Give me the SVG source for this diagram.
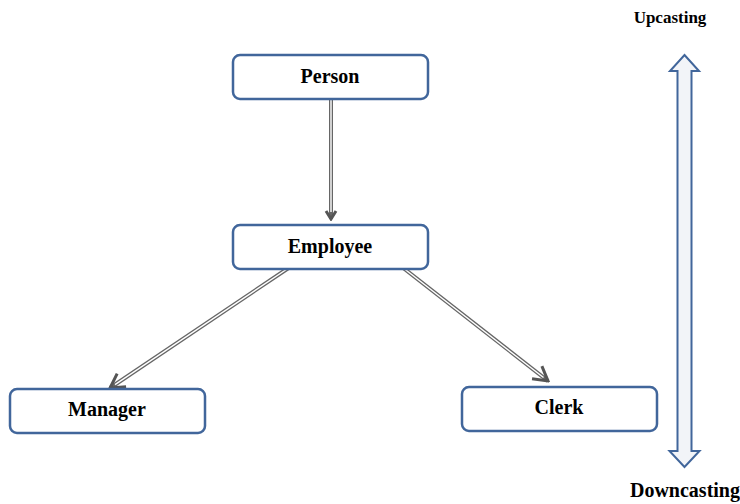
<svg xmlns="http://www.w3.org/2000/svg" width="740" height="504" viewBox="0 0 740 504">
<style>
.box{fill:#fff;stroke:#41669b;stroke-width:2.5}
.lbl{font-family:"Liberation Serif","Times New Roman",serif;font-weight:bold;font-size:20px;fill:#000;text-anchor:middle}
.side{font-family:"Liberation Serif","Times New Roman",serif;font-weight:bold;fill:#000;text-anchor:middle}
.outer{stroke:#666;stroke-width:4;fill:none}
.inner{stroke:#fff;stroke-width:1.4;fill:none}
.big{fill:#f2f4f8;stroke:#41669b;stroke-width:2}
</style>
<defs>
<marker id="ah" viewBox="-18 -10 20 20" refX="0" refY="0" markerWidth="20" markerHeight="20" markerUnits="userSpaceOnUse" orient="auto">
<path d="M-14,-8 L0,0 L-14,8" fill="none" stroke="#555" stroke-width="3" stroke-linejoin="miter"/>
</marker>
<marker id="ahs" viewBox="-12 -7 14 14" refX="0" refY="0" markerWidth="14" markerHeight="14" markerUnits="userSpaceOnUse" orient="auto">
<path d="M-8,-5 L0,0 L-8,5" fill="none" stroke="#555" stroke-width="3"/>
</marker>
</defs>
<g id="connectors">
<line class="outer" x1="331" y1="100" x2="331" y2="219" stroke-width="5" marker-end="url(#ahs)"/>
<line class="inner" x1="331" y1="100" x2="331" y2="212"/>
<line class="outer" x1="290" y1="267" x2="110" y2="388" marker-end="url(#ah)"/>
<line class="inner" x1="290" y1="267" x2="115" y2="384.6"/>
<line class="outer" x1="402" y1="267" x2="548" y2="381" marker-end="url(#ah)"/>
<line class="inner" x1="402" y1="267" x2="543.5" y2="377.5"/>
</g>
<g id="person"><rect class="box" x="233" y="55" width="195" height="44" rx="7"/><text class="lbl" x="330" y="83">Person</text></g>
<g id="employee"><rect class="box" x="233" y="225" width="195" height="44" rx="7"/><text class="lbl" x="330" y="253">Employee</text></g>
<g id="manager"><rect class="box" x="10" y="389" width="195" height="44" rx="7"/><text class="lbl" x="107" y="416">Manager</text></g>
<g id="clerk"><rect class="box" x="462" y="387" width="195" height="44" rx="7"/><text class="lbl" x="559" y="414">Clerk</text></g>
<g id="cast-arrow">
<path class="big" d="M684.5,55 L699,71 L691.5,71 L691.5,451 L699.5,451 L684.5,467 L669.5,451 L677.5,451 L677.5,71 L670,71 Z"/>
</g>
<text class="side" x="670" y="23" font-size="17">Upcasting</text>
<text class="side" x="685" y="497" font-size="20">Downcasting</text>
</svg>
